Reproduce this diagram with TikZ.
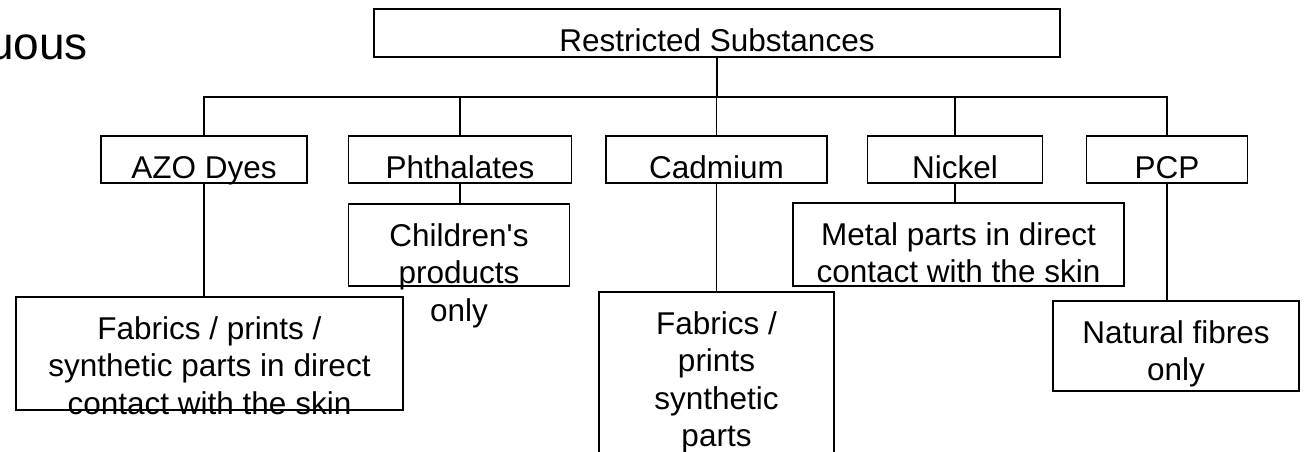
\documentclass[tikz,border=0pt]{standalone}
\usepackage{fontspec}
\setmainfont{Liberation Sans}[Ligatures=TeXOff]
\usetikzlibrary{calc}
\begin{document}
\begin{tikzpicture}[x=1pt,y=-1pt,
  box/.style={draw=black, line width=1.6pt, rectangle, inner sep=0pt, outer sep=0pt},
  txt/.style={inner sep=0pt, outer sep=0pt, align=center, anchor=north, font=\fontsize{31.5}{37.5}\selectfont},
  conn/.style={draw=black, line width=1.6pt}]
\fill[white] (0,0) rectangle (1306,451);
\useasboundingbox (0,0) rectangle (1306,451);
\clip (0,0) rectangle (1306,451);
% fragment at left
\node[inner sep=0pt, anchor=base east, font=\fontsize{46}{52}\selectfont] (frag) at (88,59) {uous};
% boxes
\node[box, minimum width=686pt, minimum height=48pt] (top) at (717,33) {};
\node[box, minimum width=206pt, minimum height=47pt] (azo) at (204,159.5) {};
\node[box, minimum width=223pt, minimum height=47pt] (phth) at (460,159.5) {};
\node[box, minimum width=221pt, minimum height=47pt] (cad) at (716.5,159.5) {};
\node[box, minimum width=175pt, minimum height=47pt] (nick) at (955,159.5) {};
\node[box, minimum width=161pt, minimum height=47pt] (pcp) at (1167,159.5) {};
\node[box, minimum width=387pt, minimum height=113pt] (azof) at (209.5,353.5) {};
\node[box, minimum width=221pt, minimum height=82pt] (child) at (459,245) {};
\node[box, minimum width=235pt, minimum height=178pt] (cadf) at (716.5,381) {};
\node[box, minimum width=331pt, minimum height=83pt] (metal) at (958.5,244.5) {};
\node[box, minimum width=246pt, minimum height=90pt] (nat) at (1176,346) {};
% texts
\node[txt] (topT) at ($(top.north)+(0,16)$) {\strut Restricted Substances};
\node[txt] (azoT) at ($(azo.north)+(0,16)$) {\strut AZO Dyes};
\node[txt] (phthT) at ($(phth.north)+(0,16)$) {\strut Phthalates};
\node[txt] (cadT) at ($(cad.north)+(0,16)$) {\strut Cadmium};
\node[txt] (nickT) at ($(nick.north)+(0,16)$) {\strut Nickel};
\node[txt] (pcpT) at ($(pcp.north)+(0,16)$) {\strut PCP};
\node[txt] (azofT) at ($(azof.north)+(0,16)$) {\strut Fabrics / prints /\\synthetic parts in direct\\contact with the skin};
\node[txt] (childT) at ($(child.north)+(0,16)$) {\strut Children's\\products\\only};
\node[txt] (cadfT) at ($(cadf.north)+(0,16)$) {\strut Fabrics /\\prints\\synthetic\\parts};
\node[txt] (metalT) at ($(metal.north)+(0,16)$) {\strut Metal parts in direct\\contact with the skin};
\node[txt] (natT) at ($(nat.north)+(0,16)$) {\strut Natural fibres\\only};
% connectors
\coordinate (bus) at (0,97);
\draw[conn] (top.south) -- (top.south |- bus);
\draw[conn] (azo.north) -- (azo.north |- bus) -- (pcp.north |- bus) -- (pcp.north);
\draw[conn] (phth.north |- bus) -- (phth.north);
\draw[conn] (cad.north |- bus) -- (cad.north);
\draw[conn] (nick.north |- bus) -- (nick.north);
\draw[conn] (azo.south) -- (azo.south |- azof.north);
\draw[conn] (phth.south) -- (phth.south |- child.north);
\draw[conn] (cad.south) -- (cad.south |- cadf.north);
\draw[conn] (nick.south) -- (nick.south |- metal.north);
\draw[conn] (pcp.south) -- (pcp.south |- nat.north);
\end{tikzpicture}
\end{document}
